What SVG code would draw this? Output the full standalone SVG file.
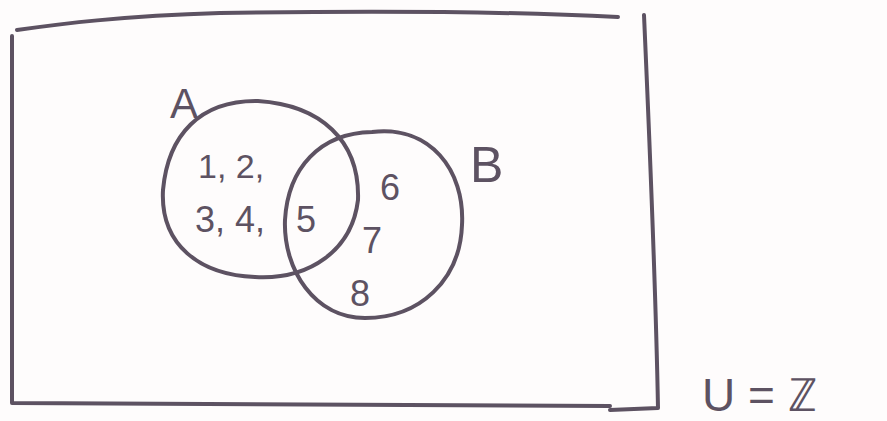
<svg xmlns="http://www.w3.org/2000/svg" width="887" height="421" viewBox="0 0 887 421">
<style>
.ink{fill:none;stroke:#5d5262;stroke-width:4;stroke-linecap:round;stroke-linejoin:round}
.t{font-family:"Liberation Sans",Arial,sans-serif;fill:#5d5262}
</style>
<rect width="887" height="421" fill="#fefcfc"/>
<g id="universe">
<path class="ink" d="M12,36 L12,403 L610,406 M17,30 C60,24 120,16 220,13 C400,10 520,12 618,17 M644,15 C650,150 656,300 658,408 L610,410"/>
</g>
<g id="setA">
<path class="ink" d="M258,101 C320,105 360,140 358,200 C352,250 310,280 255,277 C200,275 160,245 163,190 C168,135 200,100 258,101 Z"/>
<text class="t" x="170" y="118" font-size="42">A</text>
<text class="t" x="198" y="178" font-size="34">1, 2,</text>
<text class="t" x="195" y="232" font-size="36">3, 4, <tspan x="296">5</tspan></text>
</g>
<g id="setB">
<path class="ink" d="M372,132 C430,125 465,170 462,225 C460,280 420,318 365,318 C315,318 283,270 285,220 C288,168 320,133 372,132 Z"/>
<text class="t" x="470" y="182" font-size="50">B</text>
<text class="t" x="380" y="200" font-size="36">6</text>
<text class="t" x="362" y="253" font-size="36">7</text>
<text class="t" x="350" y="306" font-size="36">8</text>
</g>
<g id="label">
<text class="t" x="702" y="411" font-size="46">U = ℤ</text>
</g>
</svg>
